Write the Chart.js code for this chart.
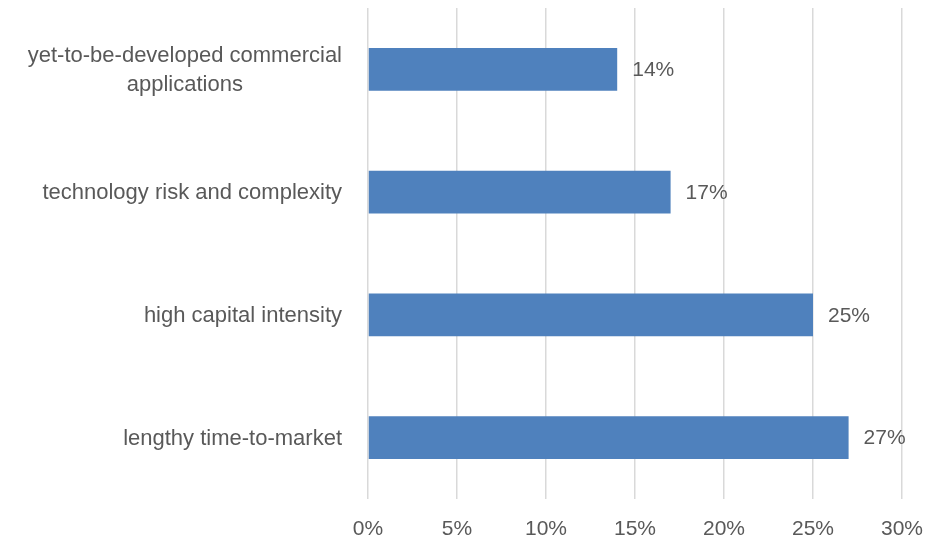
<!DOCTYPE html>
<html lang="en">
<head>
  <meta charset="UTF-8">
  <title>Barriers</title>
  <script src="https://cdn.jsdelivr.net/npm/chart.js"></script>
  <style>
    html, body { margin: 0; padding: 0; background: #fff; }
    #wrap { width: 934px; height: 539px; }
  </style>
</head>
<body>
  <div id="wrap"><canvas id="barChart" width="934" height="539"></canvas></div>
  <script>
    const categories = [
      ['yet-to-be-developed commercial', 'applications'],
      'technology risk and complexity',
      'high capital intensity',
      'lengthy time-to-market'
    ];
    const shares = [14, 17, 25, 27];
    const xTicks = [0, 5, 10, 15, 20, 25, 30];

    const textColor = '#595959';
    const fontFamily = '"Liberation Sans", Arial, sans-serif';

    // value labels next to each bar end
    const barLabels = {
      id: 'barLabels',
      afterDatasetsDraw(chart) {
        const ctx = chart.ctx;
        const meta = chart.getDatasetMeta(0);
        ctx.save();
        ctx.font = '21px ' + fontFamily;
        ctx.fillStyle = textColor;
        ctx.textAlign = 'left';
        ctx.textBaseline = 'middle';
        meta.data.forEach((bar, i) => {
          ctx.fillText(shares[i] + '%', bar.x + 15, bar.y + 1);
        });
        ctx.restore();
      }
    };

    // category labels: block right-aligned, wrapped lines centred in the block (like Excel)
    const catLabels = {
      id: 'catLabels',
      afterDraw(chart) {
        const ctx = chart.ctx;
        const y = chart.scales.y;
        const right = y.right - 26;
        const lineH = 29;
        ctx.save();
        ctx.font = '22px ' + fontFamily;
        ctx.fillStyle = textColor;
        ctx.textBaseline = 'middle';
        ctx.textAlign = 'center';
        categories.forEach((lab, i) => {
          const lines = Array.isArray(lab) ? lab : [lab];
          const w = Math.max(...lines.map(l => ctx.measureText(l).width));
          const cy = y.getPixelForValue(i) + 1;
          const top = cy - (lines.length - 1) * lineH / 2;
          lines.forEach((l, j) => ctx.fillText(l, right - w / 2, top + j * lineH));
        });
        ctx.restore();
      }
    };

    Chart.defaults.font.family = fontFamily;
    Chart.defaults.color = textColor;

    new Chart(document.getElementById('barChart'), {
      type: 'bar',
      data: {
        labels: categories,
        datasets: [{
          data: shares,
          backgroundColor: '#4F81BD',
          borderWidth: 0,
          categoryPercentage: 1,
          barPercentage: 0.35
        }]
      },
      options: {
        indexAxis: 'y',
        responsive: false,
        animation: false,
        layout: { padding: { top: 8, right: 32, left: 0, bottom: 0 } },
        plugins: {
          legend: { display: false },
          tooltip: { enabled: false }
        },
        scales: {
          x: {
            min: 0,
            max: 30,
            afterBuildTicks: (axis) => { axis.ticks = xTicks.map(v => ({ value: v })); },
            grid: { color: '#d9d9d9', lineWidth: 1.5, drawTicks: false },
            border: { display: false },
            ticks: {
              font: { size: 21 },
              padding: 18,
              callback: (v) => v + '%'
            },
            afterFit: (axis) => {
              axis.height = 40;
              axis.paddingLeft = 0;
              axis.paddingRight = 0;
            }
          },
          y: {
            grid: { display: false },
            border: { display: false },
            ticks: { display: false },
            afterFit: (axis) => {
              axis.width = 368;
              axis.paddingTop = 0;
              axis.paddingBottom = 0;
            }
          }
        }
      },
      plugins: [barLabels, catLabels]
    });
  </script>
</body>
</html>
